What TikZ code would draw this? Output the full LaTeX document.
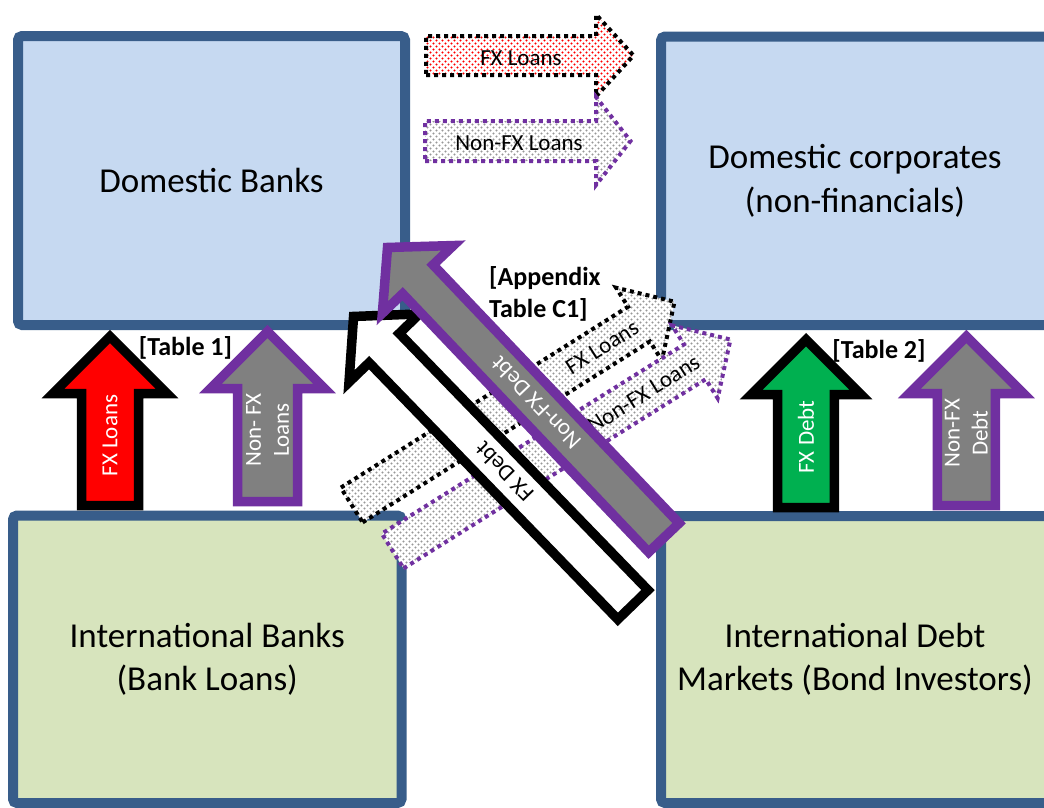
\documentclass[tikz,border=0pt]{standalone}
\usepackage{fontspec}
\setmainfont{Carlito}
\usetikzlibrary{patterns}
\pgfdeclarepatternformonly{mydots}{\pgfqpoint{-1pt}{-1pt}}{\pgfqpoint{7pt}{7pt}}{\pgfqpoint{6pt}{6pt}}{%
  \pgfpathcircle{\pgfqpoint{1.5pt}{1.5pt}}{1.05pt}%
  \pgfpathcircle{\pgfqpoint{4.5pt}{4.5pt}}{1.05pt}%
  \pgfusepath{fill}}
\definecolor{boxline}{HTML}{385D8A}
\definecolor{bluefill}{HTML}{C6D9F1}
\definecolor{greenfill}{HTML}{D7E4BD}
\definecolor{xlpurple}{HTML}{7030A0}
\definecolor{xlgreen}{HTML}{00B050}
\definecolor{xlgray}{HTML}{808080}
\definecolor{dotgray}{HTML}{989898}
% #1 style, #2 length, #3 shaft half width, #4 head half width, #5 head length
\newcommand{\blockarrow}[5]{%
  \path[#1] (0,#3) -- ({#2-#5},#3) -- ({#2-#5},#4) -- (#2,0) -- ({#2-#5},-#4) -- ({#2-#5},-#3) -- (0,-#3) -- cycle;}
\begin{document}
\begin{tikzpicture}[x=1pt,y=-1pt,
  box/.style={draw=boxline, line width=10pt, rounded corners=4pt, inner sep=0pt, align=center,
    font=\fontsize{35}{43.5}\selectfont},
  bluebox/.style={box, fill=bluefill},
  greenbox/.style={box, fill=greenfill},
  solidarr/.style={line width=9.5pt, line join=miter},
  redarr/.style={solidarr, draw=black, fill=red},
  greenarr/.style={solidarr, draw=black, fill=xlgreen},
  grayarr/.style={solidarr, draw=xlpurple, fill=xlgray},
  whitearr/.style={solidarr, draw=black, fill=white},
  dotarr/.style={line width=4pt, dash pattern=on 4pt off 4pt, preaction={fill=white}, pattern=mydots},
  dotred/.style={dotarr, draw=black, pattern color=red},
  dotgrayblack/.style={dotarr, draw=black, pattern color=dotgray},
  dotgraypurple/.style={dotarr, draw=xlpurple, pattern color=dotgray},
  arrtext/.style={font=\fontsize{23}{28}\selectfont, align=center, inner sep=0pt, transform shape},
  tab/.style={font=\bfseries\fontsize{26}{32}\selectfont, inner sep=0pt}
]
\useasboundingbox (0,0) rectangle (1044,807);
\clip (0,0) rectangle (1044,807);

% boxes
\node[bluebox, minimum width=387pt, minimum height=289pt] (db) at (211.5,180.5) {Domestic Banks};
\node[bluebox, minimum width=388pt, minimum height=288.5pt] (dc) at (855,180.75) {Domestic corporates\\(non-financials)};
\node[greenbox, minimum width=388.5pt, minimum height=287.5pt] (ib) at (207.25,659.25) {International Banks\\(Bank Loans)};
\node[greenbox, minimum width=388pt, minimum height=287pt] (idm) at (855,659.5) {International Debt\\Markets (Bond Investors)};

% vertical arrows
\begin{scope}[shift={(110,505.5)},rotate=90]
  \blockarrow{redarr}{169}{28.5}{57}{57}
  \node[arrtext, text=white] (vfxl) at (70,0) {FX Loans};
\end{scope}
\begin{scope}[shift={(267.5,501.5)},rotate=90]
  \blockarrow{grayarr}{170}{30}{57}{57}
  \node[arrtext, text=white] (vnfxl) at (71.5,0) {Non- FX\\Loans};
\end{scope}
\begin{scope}[shift={(806,507.7)},rotate=90]
  \blockarrow{greenarr}{168}{28.3}{55}{55}
  \node[arrtext, text=white] (vfxd) at (70.7,0) {FX Debt};
\end{scope}
\begin{scope}[shift={(966.3,505.5)},rotate=90]
  \blockarrow{grayarr}{169}{29}{57}{57}
  \node[arrtext, text=white] (vnfxd) at (72.5,0) {Non-FX\\Debt};
\end{scope}

% top horizontal arrows
\begin{scope}[shift={(426,55.5)}]
  \blockarrow{dotred}{207.5}{19.5}{41}{37.5}
  \node[arrtext] (hfxl) at (95,2.5) {FX Loans};
\end{scope}
\begin{scope}[shift={(425,141)}]
  \blockarrow{dotgraypurple}{205.5}{20}{44}{34.5}
  \node[arrtext] (hnfxl) at (94,2) {Non-FX Loans};
\end{scope}

% diagonal dotted arrows
\begin{scope}[shift={(351.7,505.0)},rotate=32.2]
  \blockarrow{dotgrayblack}{381.5}{20.5}{43}{42}
  \node[arrtext] (dfxl) at (296,0) {FX Loans};
\end{scope}
\begin{scope}[shift={(392.7,551.0)},rotate=32.05]
  \blockarrow{dotgraypurple}{398.5}{20.5}{43}{42}
  \node[arrtext] (dnfxl) at (296,0) {Non-FX Loans};
\end{scope}

% big diagonal arrows
\begin{scope}[shift={(632.9,604.7)},rotate=134.1]
  \blockarrow{whitearr}{401.4}{21}{49}{44}
  \node[arrtext] (dfxd) at (185,0) {FX Debt};
\end{scope}
\begin{scope}[shift={(663.9,537.7)},rotate=133.6]
  \blockarrow{grayarr}{400.8}{21}{49}{44}
  \node[arrtext, text=white] (dnfxd) at (186,0) {Non-FX Debt};
\end{scope}

% labels
\node[tab, anchor=base] (t1) at (185.5,355) {[Table 1]};
\node[tab, anchor=base] (t2) at (879,358) {[Table 2]};
\node[tab, anchor=base west, align=left] (t3) at (489,317) {[Appendix\\Table C1]};
\end{tikzpicture}
\end{document}
